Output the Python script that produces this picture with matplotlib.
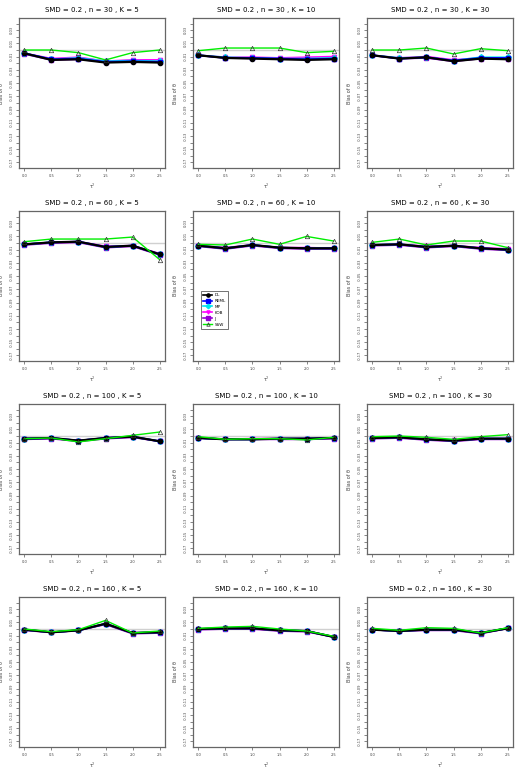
import numpy as np
import matplotlib
matplotlib.use("Agg")
import matplotlib.pyplot as plt

# x values (tau^2) and panel settings
tau2 = [0.0, 0.5, 1.0, 1.5, 2.0, 2.5]
n_vals = [30, 60, 100, 160]
k_vals = [5, 10, 30]

# bias values, one row per panel (row-major: n, then K)
dl = [
    [-0.005, -0.015, -0.014, -0.019, -0.018, -0.019],
    [-0.008, -0.012, -0.013, -0.014, -0.015, -0.014],
    [-0.008, -0.013, -0.011, -0.017, -0.013, -0.014],
    [-0.002, 0.001, 0.002, -0.006, -0.004, -0.017],
    [-0.004, -0.008, -0.003, -0.007, -0.008, -0.008],
    [-0.003, -0.002, -0.006, -0.004, -0.008, -0.010],
    [-0.004, -0.003, -0.007, -0.003, -0.001, -0.008],
    [-0.003, -0.005, -0.005, -0.004, -0.004, -0.003],
    [-0.003, -0.002, -0.005, -0.007, -0.004, -0.004],
    [-0.001, -0.005, -0.002, 0.008, -0.006, -0.005],
    [0.000, 0.001, 0.001, -0.002, -0.003, -0.012],
    [-0.001, -0.003, -0.001, -0.001, -0.006, 0.001],
]
reml = [
    [-0.005, -0.014, -0.013, -0.018, -0.017, -0.018],
    [-0.008, -0.012, -0.012, -0.013, -0.014, -0.013],
    [-0.008, -0.013, -0.011, -0.016, -0.012, -0.012],
    [-0.002, 0.001, 0.002, -0.006, -0.004, -0.017],
    [-0.004, -0.008, -0.003, -0.007, -0.008, -0.008],
    [-0.003, -0.002, -0.006, -0.004, -0.008, -0.010],
    [-0.004, -0.003, -0.007, -0.003, -0.001, -0.008],
    [-0.003, -0.005, -0.005, -0.004, -0.004, -0.003],
    [-0.003, -0.002, -0.005, -0.007, -0.004, -0.004],
    [-0.001, -0.005, -0.002, 0.008, -0.006, -0.005],
    [0.000, 0.001, 0.001, -0.002, -0.003, -0.012],
    [-0.001, -0.003, -0.001, -0.001, -0.006, 0.001],
]
mp = [
    [-0.005, -0.014, -0.012, -0.017, -0.016, -0.017],
    [-0.008, -0.011, -0.012, -0.013, -0.013, -0.012],
    [-0.008, -0.012, -0.011, -0.016, -0.011, -0.011],
    [-0.002, 0.001, 0.002, -0.006, -0.004, -0.017],
    [-0.004, -0.008, -0.003, -0.007, -0.008, -0.008],
    [-0.003, -0.002, -0.006, -0.004, -0.008, -0.010],
    [-0.004, -0.003, -0.007, -0.003, -0.001, -0.008],
    [-0.003, -0.005, -0.005, -0.004, -0.004, -0.003],
    [-0.003, -0.002, -0.005, -0.007, -0.004, -0.004],
    [-0.001, -0.005, -0.002, 0.008, -0.006, -0.005],
    [0.000, 0.001, 0.001, -0.002, -0.003, -0.012],
    [-0.001, -0.003, -0.001, -0.001, -0.006, 0.001],
]
kob = [
    [-0.005, -0.013, -0.011, -0.017, -0.015, -0.015],
    [-0.008, -0.011, -0.011, -0.012, -0.011, -0.010],
    [-0.008, -0.012, -0.010, -0.015, -0.012, -0.012],
    [-0.002, 0.001, 0.002, -0.005, -0.004, -0.016],
    [-0.004, -0.007, -0.003, -0.007, -0.007, -0.008],
    [-0.003, -0.002, -0.005, -0.004, -0.007, -0.009],
    [-0.004, -0.003, -0.007, -0.003, -0.001, -0.008],
    [-0.003, -0.005, -0.004, -0.004, -0.004, -0.003],
    [-0.003, -0.002, -0.005, -0.006, -0.004, -0.004],
    [-0.001, -0.005, -0.002, 0.008, -0.006, -0.005],
    [0.000, 0.001, 0.001, -0.002, -0.003, -0.012],
    [-0.001, -0.003, -0.001, -0.001, -0.006, 0.001],
]
j = [
    [-0.006, -0.015, -0.014, -0.018, -0.017, -0.017],
    [-0.008, -0.012, -0.012, -0.013, -0.013, -0.013],
    [-0.008, -0.013, -0.012, -0.017, -0.013, -0.013],
    [-0.003, 0.000, 0.001, -0.007, -0.005, -0.018],
    [-0.005, -0.009, -0.004, -0.008, -0.009, -0.009],
    [-0.004, -0.003, -0.007, -0.005, -0.009, -0.011],
    [-0.005, -0.004, -0.008, -0.004, -0.002, -0.008],
    [-0.003, -0.005, -0.005, -0.005, -0.005, -0.004],
    [-0.004, -0.003, -0.006, -0.008, -0.005, -0.005],
    [-0.002, -0.005, -0.002, 0.007, -0.007, -0.006],
    [-0.001, 0.000, 0.000, -0.003, -0.004, -0.012],
    [-0.001, -0.003, -0.002, -0.002, -0.007, 0.001],
]
ssw = [
    [0.000, 0.000, -0.004, -0.015, -0.004, 0.000],
    [-0.001, 0.003, 0.003, 0.003, -0.004, -0.002],
    [0.000, 0.000, 0.003, -0.006, 0.002, -0.001],
    [0.002, 0.006, 0.006, 0.006, 0.009, -0.025],
    [-0.002, -0.003, 0.006, -0.002, 0.010, 0.003],
    [0.001, 0.006, -0.003, 0.003, 0.003, -0.007],
    [-0.004, -0.003, -0.009, -0.004, 0.001, 0.006],
    [-0.001, -0.005, -0.004, -0.004, -0.006, -0.002],
    [-0.001, 0.000, -0.002, -0.005, -0.001, 0.002],
    [0.000, -0.004, -0.001, 0.013, -0.006, -0.003],
    [0.001, 0.003, 0.004, 0.000, -0.003, -0.011],
    [0.001, -0.002, 0.002, 0.001, -0.006, 0.002],
]

methods = ["DL", "REML", "MP", "KOB", "J", "SSW"]
series = [dl, reml, mp, kob, j, ssw]
colors = ["black", "#0000ff", "#00e5ee", "#ff00ff", "#9400d3", "#00ee00"]
markers = ["o", "s", "D", "v", "s", "^"]
draw_order = [4, 3, 2, 1, 0, 5]

fig = plt.figure(figsize=(5.25, 7.7), dpi=100)
frame_col = "#666666"
yticks = np.round(np.arange(-0.17, 0.0401, 0.01), 2)

for r, n in enumerate(n_vals):
    for c, k in enumerate(k_vals):
        p = r * 3 + c
        left = [19, 193, 367][c] / 525
        bottom = 1 - (18 + 193 * r + 150) / 770
        ax = fig.add_axes([left, bottom, 146 / 525, 150 / 770])
        ax.axhline(0, color="#d0d0d0", lw=1.0, zorder=1)
        for m in draw_order:
            if m == 5:
                ax.plot(tau2, series[m][p], color=colors[m], lw=1.0, marker=markers[m],
                        ms=3.2, mfc="none", mec="#333333", mew=0.5, zorder=4)
            else:
                ax.plot(tau2, series[m][p], color=colors[m], lw=1.6 if m == 0 else 1.3,
                        marker=markers[m], ms=3.0, mec=colors[m], zorder=3)
        ax.set_xlim(-0.1, 2.6)
        ax.set_ylim(-0.17 - 0.0084, 0.04 + 0.0084)
        ax.set_xticks(tau2)
        ax.set_xticklabels([f"{v:.1f}" for v in tau2])
        ax.set_yticks(yticks)
        ax.set_yticklabels([f"{v:.2f}" if i % 2 == 0 else "" for i, v in enumerate(yticks)],
                           rotation=90, va="center")
        ax.tick_params(axis="both", labelsize=2.6, length=2, width=0.5, colors="#555555",
                       pad=2, labelcolor="#444444")
        for s in ax.spines.values():
            s.set_color(frame_col)
            s.set_linewidth(0.9)
        ax.set_title(f"SMD = 0.2 , n = {n} , K = {k}", fontsize=5.0, pad=4)
        ax.set_xlabel("τ$^2$", fontsize=3.5, labelpad=3, color="#444444")
        ax.set_ylabel("Bias of θ", fontsize=3.5, labelpad=4, color="#444444")
        if p == 4:
            handles = []
            for m in range(6):
                if m == 5:
                    h, = ax.plot([], [], color=colors[m], lw=1.0, marker=markers[m], ms=2.5,
                                 mfc="none", mec="#333333", mew=0.5)
                else:
                    h, = ax.plot([], [], color=colors[m], lw=1.2, marker=markers[m], ms=2.3,
                                 mec=colors[m])
                handles.append(h)
            leg = ax.legend(handles, methods, loc="upper left", bbox_to_anchor=(0.04, 0.48),
                            fontsize=3.0, frameon=True, fancybox=False, handlelength=2.2,
                            borderpad=0.5, labelspacing=0.45, handletextpad=0.6)
            leg.get_frame().set_edgecolor("#333333")
            leg.get_frame().set_linewidth(0.6)

fig.savefig("out.png", dpi=100)
